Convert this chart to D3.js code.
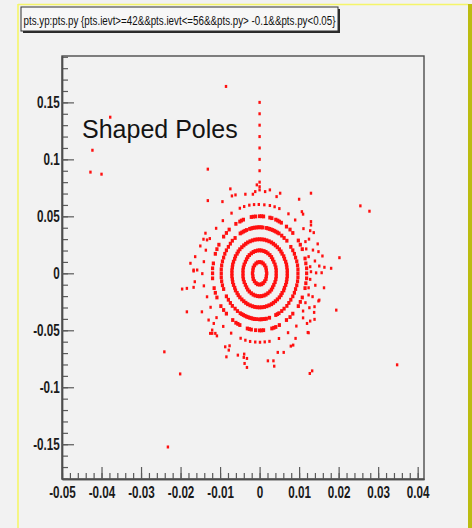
<!DOCTYPE html>
<html>
<head>
<meta charset="utf-8">
<script src="https://cdn.jsdelivr.net/npm/d3@7"></script>
<style>
  html, body { margin: 0; padding: 0; background: #ffffff; }
  svg { display: block; }
</style>
</head>
<body>
<svg id="chart" width="472" height="528"></svg>
<script>
// ---- data ----
const titleText = "pts.yp:pts.py {pts.ievt>=42&&pts.ievt<=56&&pts.py> -0.1&&pts.py<0.05}";
const noteText = "Shaped Poles";

const xDomain = [-0.05, 0.0416];
const yDomain = [-0.1805, 0.1907];
const xTicks = [-0.05, -0.04, -0.03, -0.02, -0.01, 0, 0.01, 0.02, 0.03, 0.04];
const xTickLabels = ["-0.05", "-0.04", "-0.03", "-0.02", "-0.01", "0", "0.01", "0.02", "0.03", "0.04"];
const yTicks = [-0.15, -0.1, -0.05, 0, 0.05, 0.1, 0.15];
const yTickLabels = ["-0.15", "-0.1", "-0.05", "0", "0.05", "0.1", "0.15"];

// innermost ring
const ring1 = [[.0018,0],[.0017,.0026],[.0016,.0050],[.0013,.0070],[.0009,.0086],[.0005,.0096],[0,.0099],
  [-.0005,.0096],[-.0009,.0086],[-.0013,.0070],[-.0016,.0050],[-.0017,.0026],[-.0018,0],
  [-.0017,-.0026],[-.0016,-.0050],[-.0013,-.0070],[-.0009,-.0086],[-.0005,-.0096],[0,-.0099],
  [.0005,-.0096],[.0009,-.0086],[.0013,-.0070],[.0016,-.0050],[.0017,-.0026]];

const ring2 = [[.0042,0],[.0042,.0027],[.0041,.0052],[.0039,.0077],[.0036,.0101],[.0033,.0123],[.0030,.0143],[.0026,.0160],[.0021,.0175],[.0016,.0187],[.0011,.0195],[.0005,.0200],[0,.0202],
  [-.0005,.0200],[-.0011,.0195],[-.0016,.0187],[-.0021,.0175],[-.0026,.0160],[-.0030,.0143],[-.0033,.0123],[-.0036,.0101],[-.0039,.0077],[-.0041,.0052],[-.0042,.0027],[-.0042,0],
  [-.0042,-.0027],[-.0041,-.0052],[-.0039,-.0077],[-.0036,-.0101],[-.0033,-.0123],[-.0030,-.0143],[-.0026,-.0160],[-.0021,-.0175],[-.0016,-.0187],[-.0011,-.0195],[-.0005,-.0200],[0,-.0202],
  [.0005,-.0200],[.0011,-.0195],[.0016,-.0187],[.0021,-.0175],[.0026,-.0160],[.0030,-.0143],[.0033,-.0123],[.0036,-.0101],[.0039,-.0077],[.0041,-.0052],[.0042,-.0027]];

const ring3 = [[.0070,0],[.0070,.0026],[.0069,.0052],[.0068,.0077],[.0066,.0102],[.0063,.0127],[.0061,.0150],[.0057,.0172],[.0054,.0192],[.0050,.0211],[.0045,.0229],[.0040,.0245],[.0035,.0259],[.0030,.0271],[.0024,.0281],[.0018,.0289],[.0012,.0295],[.0006,.0298],
  [0,.0299],[-.0006,.0298],[-.0012,.0295],[-.0018,.0289],[-.0024,.0281],[-.0030,.0271],[-.0035,.0259],[-.0040,.0245],[-.0045,.0229],[-.0050,.0211],[-.0054,.0192],[-.0057,.0172],[-.0061,.0150],[-.0063,.0127],[-.0066,.0102],[-.0068,.0077],[-.0069,.0052],[-.0070,.0026],
  [-.0070,0],[-.0070,-.0026],[-.0069,-.0052],[-.0068,-.0077],[-.0066,-.0102],[-.0063,-.0127],[-.0061,-.0150],[-.0057,-.0172],[-.0054,-.0192],[-.0050,-.0211],[-.0045,-.0229],[-.0040,-.0245],[-.0035,-.0259],[-.0030,-.0271],[-.0024,-.0281],[-.0018,-.0289],[-.0012,-.0295],[-.0006,-.0298],
  [0,-.0299],[.0006,-.0298],[.0012,-.0295],[.0018,-.0289],[.0024,-.0281],[.0030,-.0271],[.0035,-.0259],[.0040,-.0245],[.0045,-.0229],[.0050,-.0211],[.0054,-.0192],[.0057,-.0172],[.0061,-.0150],[.0063,-.0127],[.0066,-.0102],[.0068,-.0077],[.0069,-.0052],[.0070,-.0026]];

// long-dash ring
const ring4 = [[.0097,0],[.0097,.0035],[.0096,.0070],[.0094,.0105],[.0091,.0138],[.0088,.0171],[.0084,.0202],[.0079,.0232],[.0069,.0286],[.0062,.0310],[.0056,.0331],[.0049,.0350],[.0045,.0358],[.0041,.0366],[.0037,.0373],[.0033,.0380],[.0029,.0385],[.0025,.0390],[.0021,.0394],[.0017,.0398],[.0008,.0402],[.0004,.0404],
  [0,.0404],[-.0004,.0404],[-.0008,.0402],[-.0013,.0401],[-.0017,.0398],[-.0021,.0394],[-.0025,.0390],[-.0033,.0380],[-.0037,.0373],[-.0041,.0366],[-.0045,.0358],[-.0049,.0350],[-.0062,.0310],[-.0069,.0286],[-.0074,.0260],[-.0079,.0232],[-.0084,.0202],[-.0088,.0171],[-.0091,.0138],[-.0094,.0105],[-.0096,.0070],[-.0097,.0035],
  [-.0097,0],[-.0097,-.0035],[-.0096,-.0070],[-.0094,-.0105],[-.0091,-.0138],[-.0084,-.0202],[-.0079,-.0232],[-.0074,-.0260],[-.0069,-.0286],[-.0062,-.0310],[-.0056,-.0331],[-.0049,-.0350],[-.0045,-.0358],[-.0041,-.0366],[-.0037,-.0373],[-.0033,-.0380],[-.0029,-.0385],[-.0025,-.0390],[-.0021,-.0394],[-.0017,-.0398],[-.0013,-.0401],[-.0008,-.0402],
  [0,-.0404],[.0004,-.0404],[.0008,-.0402],[.0013,-.0401],[.0017,-.0398],[.0025,-.0390],[.0041,-.0366],[.0045,-.0358],[.0049,-.0350],[.0056,-.0331],[.0062,-.0310],[.0069,-.0286],[.0074,-.0260],[.0079,-.0232],[.0084,-.0202],[.0088,-.0171],[.0091,-.0138],[.0094,-.0105],[.0096,-.0070],[.0097,-.0035]];

// short-dash ring
const ring5 = [[.0119,0],[.0119,.0044],[.0117,.0087],[.0115,.0130],[.0108,.0212],[.0103,.0251],[.0098,.0288],[.0084,.0354],[.0077,.0384],[.0068,.0410],[.0055,.0444],[.0050,.0454],[.0046,.0463],[.0041,.0471],[.0031,.0484],[.0026,.0489],[.0010,.0499],[.0005,.0501],
  [0,.0501],[-.0010,.0499],[-.0016,.0497],[-.0021,.0494],[-.0041,.0471],[-.0046,.0463],[-.0050,.0454],[-.0060,.0434],[-.0077,.0384],[-.0084,.0354],[-.0091,.0322],[-.0103,.0251],[-.0108,.0212],[-.0112,.0171],[-.0117,.0087],[-.0119,.0044],
  [-.0119,0],[-.0119,-.0044],[-.0115,-.0130],[-.0112,-.0171],[-.0108,-.0212],[-.0098,-.0288],[-.0091,-.0322],[-.0084,-.0354],[-.0068,-.0410],[-.0060,-.0434],[-.0055,-.0444],[-.0050,-.0454],[-.0031,-.0484],[-.0026,-.0489],[-.0021,-.0494],[-.0010,-.0499],
  [0,-.0501],[.0005,-.0501],[.0010,-.0499],[.0031,-.0484],[.0036,-.0478],[.0041,-.0471],[.0050,-.0454],[.0068,-.0410],[.0077,-.0384],[.0084,-.0354],[.0098,-.0288],[.0103,-.0251],[.0108,-.0212],[.0115,-.0130],[.0117,-.0087],[.0119,-.0044]];

// sparse outer ring
const ring6 = [[.0143,.0004],[.0140,.0108],[.0135,.0204],[.0125,.0300],[.0111,.0392],[.0090,.0468],[.0073,.0522],[.0050,.0568],[.0038,.0584],[.0026,.0595],[.0012,.0601],[-.0002,.0604],
  [-.0014,.0603],[-.0026,.0598],[-.0039,.0586],[-.0050,.0571],[-.0071,.0528],[-.0093,.0462],[-.0110,.0395],[-.0126,.0305],[-.0136,.0203],[-.0141,.0102],
  [-.0145,-.0003],[-.0141,-.0110],[-.0133,-.0206],[-.0124,-.0298],[-.0109,-.0389],[-.0092,-.0466],[-.0072,-.0525],[-.0048,-.0570],[-.0036,-.0587],[-.0024,-.0598],[-.0011,-.0603],[.0001,-.0605],
  [.0013,-.0602],[.0025,-.0597],[.0049,-.0572],[.0072,-.0521],[.0093,-.0463],[.0110,-.0391],[.0126,-.0302],[.0134,-.0205],[.0141,-.0105]];

// loose halo around the rings
const halo = [[-.0131,.0638],[-.0094,.0629],[-.0074,.0741],[-.0070,.0679],[-.0061,.0688],[-.0036,.0694],[-.0017,.0694],[-.0007,.0776],[0,.0732],[-.0011,.0717],
  [.0130,.0703],[.0100,.0650],[.0052,.0703],[.0043,.0673],[.0026,.0732],[.0014,.0717],
  [.0107,.0541],[.0110,.0519],[.0130,.0454],[.0130,.0424],[.0128,.0374],[.0137,.0357],[.0116,.0278],[.0118,.0214],[.0147,.0258],[.0149,.0190],[.0124,.0146],[.0159,.0152],
  [.0151,.0064],[.0164,.0053],[.0181,.0044],[.0128,.0058],[.0130,.0014],[.0157,.0005],[.0128,-.0053],[.0163,-.0127],[.0124,-.0127],[.0124,-.0190],[.0149,-.0243],[.0116,-.0258],
  [.0139,-.0293],[.0138,-.0343],[.0110,-.0331],[.0120,-.0440],[.0128,-.0419],[.0139,-.0404],[.0122,-.0519],[.0151,-.0235],
  [-.0084,-.0733],[-.0087,-.0645],[-.0076,-.0636],[-.0055,-.0718],[-.0039,-.0709],[-.0032,-.0747],[.0021,-.0768],[.0035,-.0768],[.0037,-.0815],[.0046,-.0694],[.0061,-.0694],
  [.0079,-.0639],[.0085,-.0630],[.0091,-.0571],[.0124,-.0522],[-.0120,-.0527],[-.0108,-.0549],[-.0078,-.0674],[-.0040,-.0738],[-.0032,-.0826],[-.0038,-.0791],
  [-.0137,.0352],[-.0142,.0299],[-.0133,.0293],[-.0150,.0240],[-.0163,.0146],[-.0175,.0088],[-.0167,.0029],[-.0158,.0029],[-.0184,-.0132],[-.0167,-.0123],[-.0196,-.0138],
  [-.0184,-.0338],[-.0146,-.0338],[-.0167,.0020],[-.0164,-.0074],[-.0129,-.0410],[-.0116,-.0440],[-.0120,-.0498],[-.0112,-.0527],[-.0125,-.0527]];

// vertical dotted column above the rings
const column = [[0,.150],[0,.140],[0,.130],[0,.120],[0,.110],[0,.100],[0,.090],[0,.080],[0,.076]];

// isolated far points
const outliers = [[-.0085,.164],[-.0378,.137],[-.0423,.108],[-.0428,.0888],[-.0400,.0870],[-.0131,.0914],[.0255,.0592],[.0278,.0545],
  [.0202,.0137],[.0194,-.0323],[.0348,-.0803],[.0127,-.0879],[.0133,-.0856],[-.0241,-.0689],[-.0201,-.0883],[-.0232,-.1524]];

// ---- drawing ----
const svg = d3.select("#chart");
const W = 472, H = 528;
const frame = { left: 62, top: 56, right: 424, bottom: 479 };
const labelFont = "Liberation Sans, Arial, sans-serif";

svg.append("rect").attr("x", 0).attr("y", 0).attr("width", W).attr("height", H).attr("fill", "#f2f2f2");
// canvas edges
svg.append("line").attr("x1", 18).attr("x2", 18).attr("y1", 4).attr("y2", H).attr("stroke", "#f5f56a").attr("stroke-width", 1.6);
svg.append("line").attr("x1", 18).attr("x2", 468).attr("y1", 4.5).attr("y2", 4.5).attr("stroke", "#f5f56a").attr("stroke-width", 1.6);
svg.append("rect").attr("x", 468).attr("y", 4).attr("width", 4).attr("height", H - 4).attr("fill", "#bcbc10");

const x = d3.scaleLinear().domain(xDomain).range([frame.left, frame.right]);
const y = d3.scaleLinear().domain(yDomain).range([frame.bottom, frame.top]);

// frame
svg.append("rect")
  .attr("x", frame.left).attr("y", frame.top)
  .attr("width", frame.right - frame.left).attr("height", frame.bottom - frame.top)
  .attr("fill", "#f2f2f2").attr("stroke", "#4d4d4d").attr("stroke-width", 1.4);

// minor ticks
const xMinor = d3.range(-0.05, 0.0417, 0.002);
const yMinor = d3.range(-0.18, 0.191, 0.01);

function styleAxis(g) {
  g.select(".domain").attr("stroke", "#4d4d4d").attr("stroke-width", 1.4);
  g.selectAll(".tick line").attr("stroke", "#5a5a5a").attr("stroke-width", 1.2);
  g.selectAll(".tick text")
    .attr("font-family", labelFont).attr("font-weight", "bold")
    .attr("fill", "#1a1a1a").attr("font-size", 16)
    .attr("transform", "scale(0.73,1)");   // narrow look of the original
}

svg.append("g").attr("transform", `translate(0,${frame.bottom})`)
  .call(d3.axisBottom(x).tickValues(xMinor).tickSizeInner(-6).tickSizeOuter(0).tickFormat(""))
  .call(styleAxis);
svg.append("g").attr("transform", `translate(0,${frame.bottom})`)
  .call(d3.axisBottom(x).tickValues(xTicks).tickSizeInner(-12).tickSizeOuter(0).tickPadding(8)
    .tickFormat((d, i) => xTickLabels[i]))
  .call(styleAxis);

svg.append("g").attr("transform", `translate(${frame.left},0)`)
  .call(d3.axisLeft(y).tickValues(yMinor).tickSizeInner(-6).tickSizeOuter(0).tickFormat(""))
  .call(styleAxis);
svg.append("g").attr("transform", `translate(${frame.left},0)`)
  .call(d3.axisLeft(y).tickValues(yTicks).tickSizeInner(-12).tickSizeOuter(0).tickPadding(3)
    .tickFormat((d, i) => yTickLabels[i]))
  .call(styleAxis);

// points: dense rings get a fatter mark, like the overlapping dots in the original
function drawPoints(data, w, h) {
  svg.append("g").selectAll("rect").data(data).join("rect")
    .attr("x", d => x(d[0]) - w / 2).attr("y", d => y(d[1]) - h / 2)
    .attr("width", w).attr("height", h)
    .attr("fill", "#ff1010");
}
drawPoints([].concat(ring1, ring2, ring3), 3.3, 3.9);
drawPoints([].concat(ring4, ring5), 3.2, 3.8);
drawPoints([].concat(ring6, halo, column, outliers), 2.4, 3.0);

// note text
svg.append("text")
  .attr("x", 82).attr("y", 137.5)
  .attr("font-family", labelFont)
  .attr("font-size", 25).attr("fill", "#141414")
  .text(noteText);

// title box
const tb = { x: 21, y: 7, w: 317, h: 24 };
svg.append("rect").attr("x", tb.x + 2).attr("y", tb.y + 2).attr("width", tb.w).attr("height", tb.h).attr("fill", "#2a2a2a");
svg.append("rect").attr("x", tb.x).attr("y", tb.y).attr("width", tb.w).attr("height", tb.h)
  .attr("fill", "#f7f7f7").attr("stroke", "#333").attr("stroke-width", 1);
svg.append("text")
  .attr("x", tb.x + 2.5).attr("y", tb.y + 17.5)
  .attr("font-family", labelFont)
  .attr("font-size", 12.5).attr("fill", "#111")
  .attr("textLength", 312).attr("lengthAdjust", "spacingAndGlyphs")
  .text(titleText);
</script>
</body>
</html>
